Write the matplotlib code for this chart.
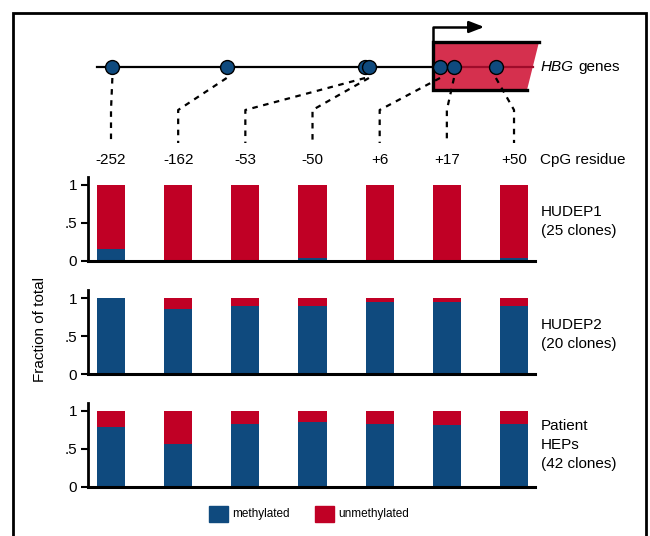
import matplotlib
matplotlib.use("Agg")
import matplotlib.pyplot as plt
from matplotlib.patches import Polygon, Rectangle
import numpy as np

plt.rcParams['font.family'] = ['Liberation Sans Narrow', 'Liberation Sans', 'DejaVu Sans']

# ---------------- data ----------------
cpg_labels = ['-252', '-162', '-53', '-50', '+6', '+17', '+50']
cpg_positions = [-252, -162, -53, -50, 6, 17, 50]
samples = ['HUDEP1\n(25 clones)', 'HUDEP2\n(20 clones)', 'Patient\nHEPs\n(42 clones)']
hudep1_meth = [0.16, 0.0, 0.0, 0.04, 0.0, 0.0, 0.04]
hudep2_meth = [1.0, 0.85, 0.90, 0.90, 0.95, 0.95, 0.90]
patient_meth = [0.786, 0.571, 0.833, 0.857, 0.833, 0.81, 0.833]
yticks = [0, 0.5, 1]
ytick_labels = ['0', '.5', '1']

BLUE = '#0f4a7e'
RED = '#c00025'
BOX = '#d5304e'

W, H = 650, 536
fig = plt.figure(figsize=(W / 100, H / 100), dpi=100)

def fx(px):
    return px / W

def fy(py):
    return 1 - py / H

# ---------------- bar panels ----------------
ax_left, ax_right = 88, 535
bar_c0, bar_step = 111, 67.17
ylim_top = 1.1
panel_zero = [261, 374, 487]
unit = 76
all_meth = [hudep1_meth, hudep2_meth, patient_meth]
label_tops = [205, 318, 419]
x = np.arange(len(cpg_labels))
xl = (-(bar_c0 - ax_left) / bar_step, (len(x) - 1) + (ax_right - (bar_c0 + 6 * bar_step)) / bar_step)
for meth, z, lab, lt in zip(all_meth, panel_zero, samples, label_tops):
    h = unit * ylim_top
    ax = fig.add_axes([fx(ax_left), fy(z), fx(ax_right - ax_left), h / H])
    meth = np.array(meth)
    ax.bar(x, meth, width=0.42, color=BLUE, linewidth=0)
    ax.bar(x, 1 - meth, bottom=meth, width=0.42, color=RED, linewidth=0)
    ax.set_xlim(*xl)
    ax.set_ylim(0, ylim_top)
    ax.set_yticks(yticks)
    ax.set_yticklabels(ytick_labels, fontsize=11)
    ax.set_xticks([])
    for s in ['top', 'right']:
        ax.spines[s].set_visible(False)
    ax.spines['left'].set_linewidth(2)
    ax.spines['bottom'].set_linewidth(2.2)
    ax.tick_params(axis='y', length=5, width=1.5, pad=3)
    fig.text(fx(541), fy(lt), lab, fontsize=11, va='top', ha='left', linespacing=1.45)

fig.text(fx(40), fy(330), 'Fraction of total', rotation=90, fontsize=11, ha='center', va='center')

# ---------------- legend ----------------
fig.patches.append(Rectangle((fx(209), fy(522)), fx(19), 16 / H, color=BLUE, transform=fig.transFigure))
fig.text(fx(232), fy(514), 'methylated', fontsize=8.5, va='center')
fig.patches.append(Rectangle((fx(315), fy(522)), fx(19), 16 / H, color=RED, transform=fig.transFigure))
fig.text(fx(338), fy(514), 'unmethylated', fontsize=8.5, va='center')

# ---------------- gene diagram ----------------
x0_px, px_per_bp = 432.4, 1.27
dax = fig.add_axes([0, 0, 1, 1])
dax.set_xlim(-x0_px / px_per_bp, (W - x0_px) / px_per_bp)
dax.set_ylim(H, 0)
dax.axis('off')
dax.patch.set_alpha(0)

def bp(px):
    return (px - x0_px) / px_per_bp

line_y = 67
# backbone line
dax.plot([bp(97), bp(433)], [line_y, line_y], color='black', lw=1.6, zorder=2)
# gene box
dax.add_patch(Polygon([(bp(433), 42), (bp(539), 42), (bp(527), 90), (bp(433), 90)],
                      closed=True, facecolor=BOX, edgecolor='none', zorder=1))
dax.plot([bp(539), bp(433), bp(433), bp(527)], [42, 42, 90, 90], color='black', lw=2.4, zorder=3,
         solid_joinstyle='miter')
dax.plot([bp(433), bp(533)], [line_y, line_y], color='#9e0c2a', lw=1.6, zorder=2)
# TSS arrow
dax.plot([bp(433), bp(433), bp(478)], [42, 27, 27], color='black', lw=1.8, zorder=3)
dax.annotate('', xy=(bp(487), 27), xytext=(bp(474), 27),
             arrowprops=dict(arrowstyle='-|>,head_length=0.9,head_width=0.35', color='black', lw=1.8))
t_hbg = dax.text(bp(541), line_y, 'HBG', style='italic', fontsize=11, va='center', ha='left')
fig.canvas.draw()
bb = t_hbg.get_window_extent(renderer=fig.canvas.get_renderer())
dax.text(bp(bb.x1 + 4), line_y, 'genes', fontsize=11, va='center', ha='left')

# dashed connectors and labels
label_y = 160
for i, (pos, lab) in enumerate(zip(cpg_positions, cpg_labels)):
    lx = bp(bar_c0 + i * bar_step)
    dax.plot([pos, lx, lx], [78, 110, 143], color='black', lw=1.6, ls=(0, (2.5, 2.5)), zorder=2)
    dax.text(lx, label_y, lab, fontsize=11, ha='center', va='center')
dax.text(bp(540), label_y, 'CpG residue', fontsize=11, ha='left', va='center')
# CpG dots
dax.plot(cpg_positions, [line_y] * len(cpg_positions), 'o', ms=10, mfc=BLUE, mec='black', mew=1.0, zorder=4)

# frame
fig.patches.append(Rectangle((fx(13), fy(560)), fx(633), 547 / H, fill=False, edgecolor='black',
                             lw=2, transform=fig.transFigure))

fig.savefig('out.png', dpi=100)
